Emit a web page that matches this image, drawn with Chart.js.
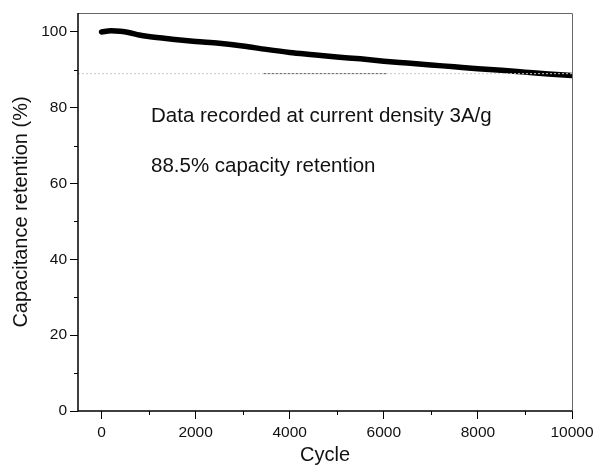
<!DOCTYPE html>
<html>
<head>
<meta charset="utf-8">
<script src="https://cdn.jsdelivr.net/npm/chart.js@4"></script>
<style>
  html, body { margin: 0; padding: 0; background: #fff; }
  #wrap { width: 598px; height: 472px; }
</style>
</head>
<body>
<div id="wrap"><canvas id="grafico"></canvas></div>
<script>
// datos
const cycles    = [0, 200, 400, 600, 800, 1000, 1500, 2000, 2500, 3000, 3500, 4000, 4500, 5000, 5500, 6000, 6500, 7000, 7500, 8000, 8500, 9000, 9500, 10000];
const retention = [100.0, 100.3, 100.2, 99.8, 99.2, 98.8, 98.1, 97.5, 97.0, 96.3, 95.4, 94.6, 94.0, 93.4, 92.9, 92.3, 91.8, 91.3, 90.8, 90.3, 89.9, 89.4, 88.9, 88.5];
const refLevel  = 89;
const refDark   = [3450, 6050];
const xTicks    = [0, 2000, 4000, 6000, 8000, 10000];
const xMinor    = [1000, 3000, 5000, 7000, 9000];
const yTicks    = [0, 20, 40, 60, 80, 100];
const yMinor    = [10, 30, 50, 70, 90];
const notes     = ['Data recorded at current density 3A/g', '88.5% capacity retention'];

const FONT = '"Liberation Sans", Arial, sans-serif';

// ticks menores, marco y textos
const extras = {
  id: 'extras',
  afterDraw(chart) {
    const ctx = chart.ctx;
    const a = chart.chartArea;
    const x = chart.scales.x, y = chart.scales.y;
    ctx.save();
    // marco superior y derecho
    ctx.strokeStyle = '#666';
    ctx.lineWidth = 1;
    ctx.beginPath();
    ctx.moveTo(a.left, a.top + 0.5);
    ctx.lineTo(a.right + 0.5, a.top + 0.5);
    ctx.lineTo(a.right + 0.5, a.bottom);
    ctx.stroke();
    // ejes
    ctx.strokeStyle = '#000';
    ctx.lineWidth = 1.5;
    ctx.beginPath();
    ctx.moveTo(a.left, a.top);
    ctx.lineTo(a.left, a.bottom);
    ctx.lineTo(a.right, a.bottom);
    ctx.stroke();
    // ticks menores
    ctx.lineWidth = 1;
    ctx.beginPath();
    xMinor.forEach(v => {
      const px = Math.round(x.getPixelForValue(v)) + 0.5;
      ctx.moveTo(px, a.bottom);
      ctx.lineTo(px, a.bottom + 4);
    });
    yMinor.forEach(v => {
      const py = Math.round(y.getPixelForValue(v)) + 0.5;
      ctx.moveTo(a.left, py);
      ctx.lineTo(a.left - 4, py);
    });
    ctx.stroke();
    // textos
    ctx.fillStyle = '#111';
    ctx.font = '20.5px ' + FONT;
    ctx.textBaseline = 'alphabetic';
    ctx.textAlign = 'left';
    ctx.fillText(notes[0], 151, 122);
    ctx.fillText(notes[1], 151, 172);
    // títulos de ejes
    ctx.font = '20px ' + FONT;
    ctx.textAlign = 'center';
    ctx.textBaseline = 'middle';
    ctx.fillText('Cycle', (a.left + a.right) / 2, 455);
    ctx.translate(21, (a.top + a.bottom) / 2);
    ctx.rotate(-Math.PI / 2);
    ctx.fillText('Capacitance retention (%)', 0, 0);
    ctx.restore();
  }
};

new Chart(document.getElementById('grafico'), {
  type: 'line',
  data: {
    datasets: [
      {
        data: [{ x: -500, y: refLevel }, { x: 10000, y: refLevel }],
        borderColor: '#c8c8c8',
        borderWidth: 1,
        borderDash: [2, 2],
        pointRadius: 0
      },
      {
        data: refDark.map(v => ({ x: v, y: refLevel })),
        borderColor: '#555',
        borderWidth: 1,
        borderDash: [2, 2],
        pointRadius: 0
      },
      {
        data: cycles.map((c, i) => ({ x: c, y: retention[i] })),
        borderColor: '#000',
        borderWidth: 5.5,
        pointRadius: 0,
        cubicInterpolationMode: 'monotone',
        borderCapStyle: 'round'
      }
    ]
  },
  options: {
    responsive: true,
    maintainAspectRatio: false,
    animation: false,
    events: [],
    layout: { padding: { top: 13, right: 26, left: 0, bottom: 0 } },
    plugins: { legend: { display: false }, tooltip: { enabled: false } },
    scales: {
      x: {
        type: 'linear',
        min: -500,
        max: 10000,
        afterBuildTicks: s => { s.ticks = xTicks.map(v => ({ value: v })); },
        afterFit: s => { s.height = 61; },
        border: { display: false },
        grid: { drawOnChartArea: false, drawTicks: true, tickLength: 8, color: '#000' },
        ticks: { color: '#111', font: { family: FONT, size: 15.5 }, padding: 4, maxRotation: 0,
                 callback: v => String(v) }
      },
      y: {
        min: 0,
        max: 105,
        afterBuildTicks: s => { s.ticks = yTicks.map(v => ({ value: v })); },
        afterFit: s => { s.width = 78; },
        border: { display: false },
        grid: { drawOnChartArea: false, drawTicks: true, tickLength: 8, color: '#000' },
        ticks: { color: '#111', font: { family: FONT, size: 15.5 }, padding: 3,
                 callback: v => String(v) }
      }
    }
  },
  plugins: [extras]
});
</script>
</body>
</html>
